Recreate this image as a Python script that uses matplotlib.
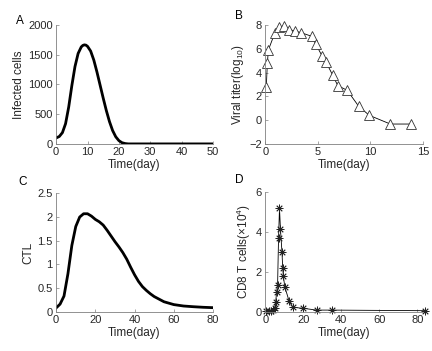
import matplotlib
matplotlib.use("Agg")
import matplotlib.pyplot as plt

plt.rcParams['font.family'] = ['Liberation Sans', 'DejaVu Sans']
plt.rcParams['mathtext.default'] = 'regular'
plt.rcParams['font.size'] = 8

# Panel A: infected cells (model curve)
days_a = [0, 1, 2, 3, 4, 5, 6, 7, 8, 8.5, 9, 9.5, 10, 11, 12, 13, 14, 15, 16,
          17, 18, 19, 20, 21, 22, 23, 25, 30, 35, 40, 45, 50]
infected = [100, 125, 190, 340, 620, 980, 1300, 1520, 1630, 1655, 1665, 1660,
            1640, 1560, 1410, 1210, 990, 770, 560, 375, 225, 120, 55, 20, 6,
            0, 0, 0, 0, 0, 0, 0]

# Panel B: viral titer data
days_b = [0.1, 0.2, 0.3, 0.9, 1.3, 1.8, 2.3, 2.8, 3.4, 4.4, 4.8, 5.4, 5.8,
          6.4, 6.9, 7.8, 8.9, 9.9, 11.9, 13.9]
titer = [2.8, 4.8, 5.9, 7.3, 7.85, 7.9, 7.6, 7.5, 7.35, 7.05, 6.4, 5.4, 4.85,
         3.8, 2.9, 2.5, 1.15, 0.4, -0.33, -0.33]

# Panel C: CTL (model curve)
days_c = [0, 2, 4, 6, 8, 10, 12, 14, 16, 18, 20, 22, 24, 26, 28, 30, 32, 34,
          36, 38, 40, 42, 44, 46, 48, 50, 55, 60, 65, 70, 75, 80]
ctl = [0.08, 0.16, 0.33, 0.8, 1.4, 1.8, 2.0, 2.07, 2.07, 2.02, 1.95, 1.9,
       1.83, 1.72, 1.6, 1.48, 1.37, 1.25, 1.11, 0.94, 0.78, 0.64, 0.53, 0.45,
       0.38, 0.32, 0.21, 0.15, 0.12, 0.105, 0.093, 0.085]

# Panel D: CD8 T cells data
days_d = [0.5, 1.8, 3, 4.2, 5, 5.5, 6, 6.5, 7, 7.5, 8, 8.8, 9.2, 9.5, 10.3,
          12.5, 14.5, 20, 27, 35, 84]
cd8 = [0.05, 0.05, 0.05, 0.08, 0.2, 0.5, 1.0, 1.35, 3.7, 5.2, 4.15, 3.0, 2.2,
       1.8, 1.25, 0.55, 0.22, 0.17, 0.08, 0.08, 0.05]

fig = plt.figure(figsize=(4.32, 3.51), dpi=100)
ax_a = fig.add_axes([0.130, 0.590, 0.363, 0.339])
ax_b = fig.add_axes([0.614, 0.590, 0.365, 0.339])
ax_c = fig.add_axes([0.130, 0.112, 0.363, 0.337])
ax_d = fig.add_axes([0.614, 0.112, 0.365, 0.340])

gray = '#262626'

def style(ax):
    for s in ['top', 'right']:
        ax.spines[s].set_visible(False)
    for s in ['left', 'bottom']:
        ax.spines[s].set_color('#808080')
        ax.spines[s].set_linewidth(0.6)
    ax.tick_params(direction='in', length=2, width=0.5, colors='#808080',
                   labelcolor=gray, labelsize=8, pad=2.5)
    ax.set_xlabel('Time(day)', fontsize=8.5, color=gray, labelpad=1)

ax_a.plot(days_a, infected, color='black', lw=2)
ax_a.set_xlim(0, 50)
ax_a.set_ylim(0, 2000)
ax_a.set_xticks([0, 10, 20, 30, 40, 50])
ax_a.set_yticks([0, 500, 1000, 1500, 2000])
ax_a.set_ylabel('Infected cells', fontsize=8.5, color=gray, labelpad=2)
style(ax_a)

ax_b.plot(days_b, titer, color='black', lw=0.6, marker='^', ms=6.5,
          mfc='white', mec='#333333', mew=0.6, clip_on=False)
ax_b.set_xlim(0, 15)
ax_b.set_ylim(-2, 8)
ax_b.set_xticks([0, 5, 10, 15])
ax_b.set_yticks([-2, 0, 2, 4, 6, 8])
ax_b.set_ylabel('Viral titer(log$_{10}$)', fontsize=8.5, color=gray, labelpad=2)
style(ax_b)

ax_c.plot(days_c, ctl, color='black', lw=2)
ax_c.set_xlim(0, 80)
ax_c.set_ylim(0, 2.5)
ax_c.set_xticks([0, 20, 40, 60, 80])
ax_c.set_yticks([0, 0.5, 1, 1.5, 2, 2.5])
ax_c.set_yticklabels(['0', '0.5', '1', '1.5', '2', '2.5'])
ax_c.set_ylabel('CTL', fontsize=8.5, color=gray, labelpad=2)
style(ax_c)

ax_d.plot(days_d, cd8, color='black', lw=0.6, marker=(8, 2, 0), ms=5.5,
          mec='#222222', mew=0.6, clip_on=False)
ax_d.set_xlim(0, 83)
ax_d.set_ylim(0, 6)
ax_d.set_xticks([0, 20, 40, 60, 80])
ax_d.set_yticks([0, 2, 4, 6])
ax_d.set_ylabel('CD8 T cells(×10$^4$)', fontsize=8.5, color=gray, labelpad=2)
style(ax_d)

for label, x, y in [('A', 20, 21), ('B', 239, 16), ('C', 23, 182), ('D', 239, 180)]:
    fig.text(x / 432, 1 - y / 351, label, fontsize=8.5, color='black',
             ha='center', va='center')

fig.savefig('out.png', dpi=100)
